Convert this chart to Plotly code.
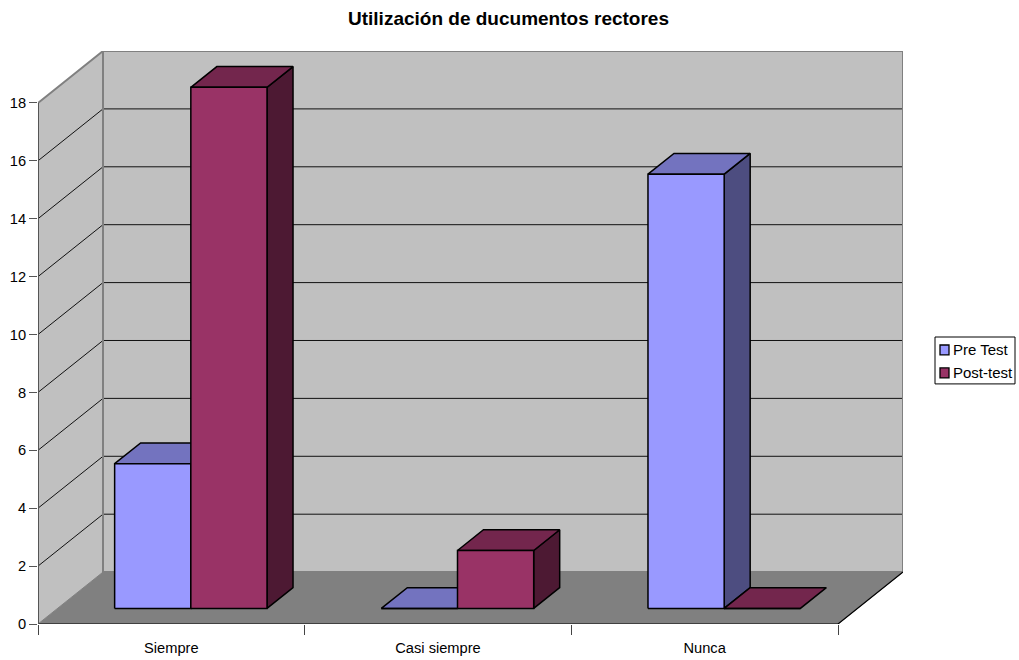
import plotly.graph_objects as go

TITLE = "Utilización de ducumentos rectores"
categories = ["Siempre", "Casi siempre", "Nunca"]
pre_test = [5, 0, 15]
post_test = [18, 2, 0]
y_ticks = [0, 2, 4, 6, 8, 10, 12, 14, 16, 18]

YMAX = 18
DX = 65 / (800 / 3)      # oblique shift of the full depth, in category units
DY = 52 / 29             # oblique shift of the full depth, in value units
GAP = 1.5
BAR_W = 1 / (2 + GAP)
D0, D1 = 0.3, 0.7        # bar depth span

FIG_W, FIG_H = 1019, 660
M_L, M_R, M_T, M_B = 38, 116, 50.5, 35.5


def proj(x, v, d):
    return x + d * DX, v + d * DY


def poly(points, fill, line="black", width=1.5, name=None):
    pts = [proj(*p) for p in points]
    pts.append(pts[0])
    return go.Scatter(
        x=[p[0] for p in pts], y=[p[1] for p in pts], mode="lines", fill="toself",
        fillcolor=fill, line=dict(color=line, width=width), name=name,
        showlegend=False, hoverinfo="skip", cliponaxis=False,
    )


def seg(points_list, color, width=1):
    xs, ys = [], []
    for pts in points_list:
        for p in pts:
            x, y = proj(*p)
            xs.append(x)
            ys.append(y)
        xs.append(None)
        ys.append(None)
    return go.Scatter(x=xs, y=ys, mode="lines", line=dict(color=color, width=width),
                      showlegend=False, hoverinfo="skip", cliponaxis=False)


n = len(categories)
traces = []
# walls and floor
traces.append(poly([(0, 0, 0), (0, YMAX, 0), (0, YMAX, 1), (0, 0, 1)], "#C0C0C0", "#C0C0C0", 0))
traces.append(poly([(0, 0, 1), (0, YMAX, 1), (n, YMAX, 1), (n, 0, 1)], "#C0C0C0", "#808080", 2))
traces.append(poly([(0, 0, 0), (0, 0, 1), (n, 0, 1), (n, 0, 0)], "#808080", "#808080", 1))
# gridlines
grid = [[(0, t, 0), (0, t, 1), (n, t, 1)] for t in y_ticks if 0 < t < YMAX]
traces.append(seg(grid, "#111111", 1))
traces.append(seg([[(0, YMAX, 0), (0, YMAX, 1), (n, YMAX, 1), (n, 0, 1), (0, 0, 1), (0, YMAX, 1)]], "#808080", 2))
# front edges
traces.append(seg([[(n, 0, 1), (n, 0, 0), (0, 0, 0)]], "black", 1.2))
traces.append(seg([[(0, 0, 0), (0, YMAX, 0)]], "#555555", 2))

# bars
series = [
    ("Pre Test", pre_test, 0, "#9999FF", "#7373BF", "#4D4D80"),
    ("Post-test", post_test, 1, "#993366", "#73264D", "#4D1933"),
]
for c in range(n):
    for name, vals, k, front, top, side in series:
        v = vals[c]
        x0 = c + GAP / 2 * BAR_W + k * BAR_W
        x1 = x0 + BAR_W
        if v > 0:
            traces.append(poly([(x1, 0, D0), (x1, v, D0), (x1, v, D1), (x1, 0, D1)], side, name=name))
        traces.append(poly([(x0, v, D0), (x0, v, D1), (x1, v, D1), (x1, v, D0)], top, name=name))
        traces.append(poly([(x0, 0, D0), (x0, v, D0), (x1, v, D0), (x1, 0, D0)], front, name=name))


# legend, drawn to the compact box of the reference
def pxx(px):
    return (px - M_L) / (FIG_W - M_L - M_R)


def pxy(py):
    return 1 - (py - M_T) / (FIG_H - M_T - M_B)


shapes = [dict(type="rect", xref="paper", yref="paper", x0=pxx(935), x1=pxx(1015),
               y0=pxy(337), y1=pxy(384), line=dict(color="black", width=1), fillcolor="white")]
annotations = []
for (name, vals, k, front, top, side), yc in zip(series, (350, 373)):
    shapes.append(dict(type="rect", xref="paper", yref="paper", x0=pxx(940), x1=pxx(949),
                       y0=pxy(yc - 5), y1=pxy(yc + 5), line=dict(color="black", width=1.3),
                       fillcolor=front))
    annotations.append(dict(text=name, xref="paper", yref="paper", x=pxx(953), y=pxy(yc),
                            xanchor="left", yanchor="middle", showarrow=False, xshift=-1,
                            borderpad=0, font=dict(size=15, color="black")))

fig = go.Figure(traces)
fig.update_layout(
    width=FIG_W, height=FIG_H, autosize=False,
    margin=dict(l=M_L, r=M_R, t=M_T, b=M_B, autoexpand=False),
    paper_bgcolor="white", plot_bgcolor="white",
    font=dict(family="Liberation Sans, Arial, sans-serif", size=14.67, color="black"),
    title=dict(text="<b>" + TITLE + "</b>", x=508.5 / FIG_W, xanchor="center",
               y=1 - 18 / FIG_H, yanchor="middle", font=dict(size=19, color="black")),
    xaxis=dict(range=[0, n + DX], tickmode="array", automargin=False,
               tickvals=[i + 0.5 for i in range(n)], ticktext=categories,
               ticks="", showgrid=False, zeroline=False, showline=False,
               ticklabelstandoff=13,
               minor=dict(tickmode="array", tickvals=list(range(n + 1)), ticks="outside",
                          ticklen=10, tickcolor="#444444", tickwidth=1, showgrid=False)),
    yaxis=dict(range=[0, YMAX + DY], tickmode="array", tickvals=y_ticks, automargin=False,
               ticktext=[str(t) for t in y_ticks], ticks="outside", ticklen=8,
               tickcolor="#555555", tickwidth=1, showgrid=False, zeroline=False,
               showline=False),
    showlegend=False,
    shapes=shapes,
    annotations=annotations,
)
fig.write_html(
    "out.html",
    config={"displayModeBar": False},
    post_script="document.body.style.margin='0';document.documentElement.style.overflow='hidden';",
)
